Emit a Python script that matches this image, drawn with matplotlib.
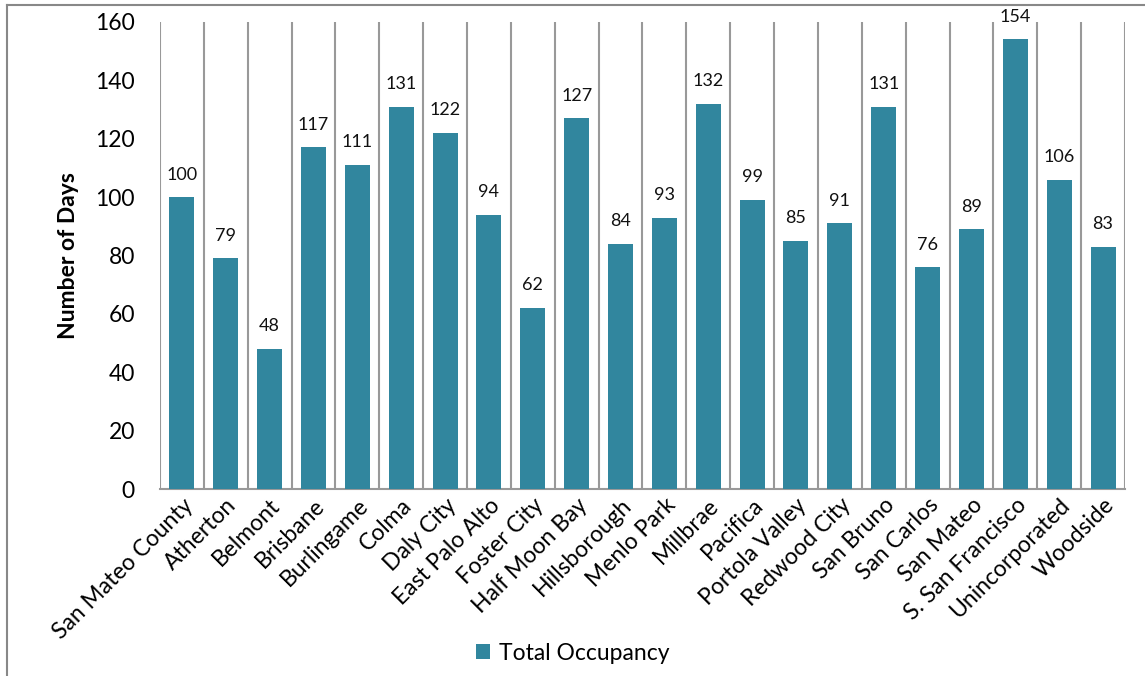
import matplotlib.pyplot as plt
import numpy as np
from matplotlib.lines import Line2D

plt.rcParams['font.family'] = ['Lato', 'DejaVu Sans']

cities = ['San Mateo County', 'Atherton', 'Belmont', 'Brisbane', 'Burlingame',
          'Colma', 'Daly City', 'East Palo Alto', 'Foster City', 'Half Moon Bay',
          'Hillsborough', 'Menlo Park', 'Millbrae', 'Pacifica', 'Portola Valley',
          'Redwood City', 'San Bruno', 'San Carlos', 'San Mateo',
          'S. San Francisco', 'Unincorporated', 'Woodside']
occupancy = [100, 79, 48, 117, 111, 131, 122, 94, 62, 127, 84, 93, 132, 99,
             85, 91, 131, 76, 89, 154, 106, 83]
yticks = [0, 20, 40, 60, 80, 100, 120, 140, 160]

bar_color = '#31869E'
grid_color = '#999999'

fig = plt.figure(figsize=(11.45, 6.76), dpi=100)
ax = fig.add_axes([0.1397, 0.2766, 0.8428, 0.6909])

x = np.arange(len(cities))
bars = ax.bar(x, occupancy, width=0.57, color=bar_color, label='Total Occupancy',
              zorder=3)
for xi, v in zip(x, occupancy):
    ax.text(xi, v + 5, str(v), ha='center', va='bottom', fontsize=13, color='#111111')

ax.set_xlim(-0.5, len(cities) - 0.5)
ax.set_ylim(0, 160)
ax.set_yticks(yticks)
ax.tick_params(axis='y', length=0, labelsize=16.5, pad=18)
ax.tick_params(axis='x', length=0, labelsize=16.5, pad=4)
ax.set_xticks(x)
ax.set_xticklabels(cities, rotation=45, ha='right', rotation_mode='anchor')

# vertical gridlines between categories
for b in np.arange(len(cities) + 1) - 0.5:
    ax.axvline(b, color=grid_color, lw=1.5, zorder=1)

for s in ['top', 'right', 'left']:
    ax.spines[s].set_visible(False)
ax.spines['bottom'].set_color(grid_color)
ax.spines['bottom'].set_linewidth(1.5)

ax.set_ylabel('Number of Days', fontsize=16.5, fontweight='bold', labelpad=12)

leg = fig.legend(handles=[bars], loc='center', bbox_to_anchor=(0.5, 0.034),
                 frameon=False, fontsize=16.5, handlelength=0.6, handleheight=0.6,
                 handletextpad=0.4)

# outer chart border
fig.add_artist(Line2D([0.0065, 0.0065], [0, 0.993], color='#888888', lw=1.5))
fig.add_artist(Line2D([0.0065, 1.0], [0.993, 0.993], color='#888888', lw=1.5))

fig.savefig('out.png', dpi=100)
